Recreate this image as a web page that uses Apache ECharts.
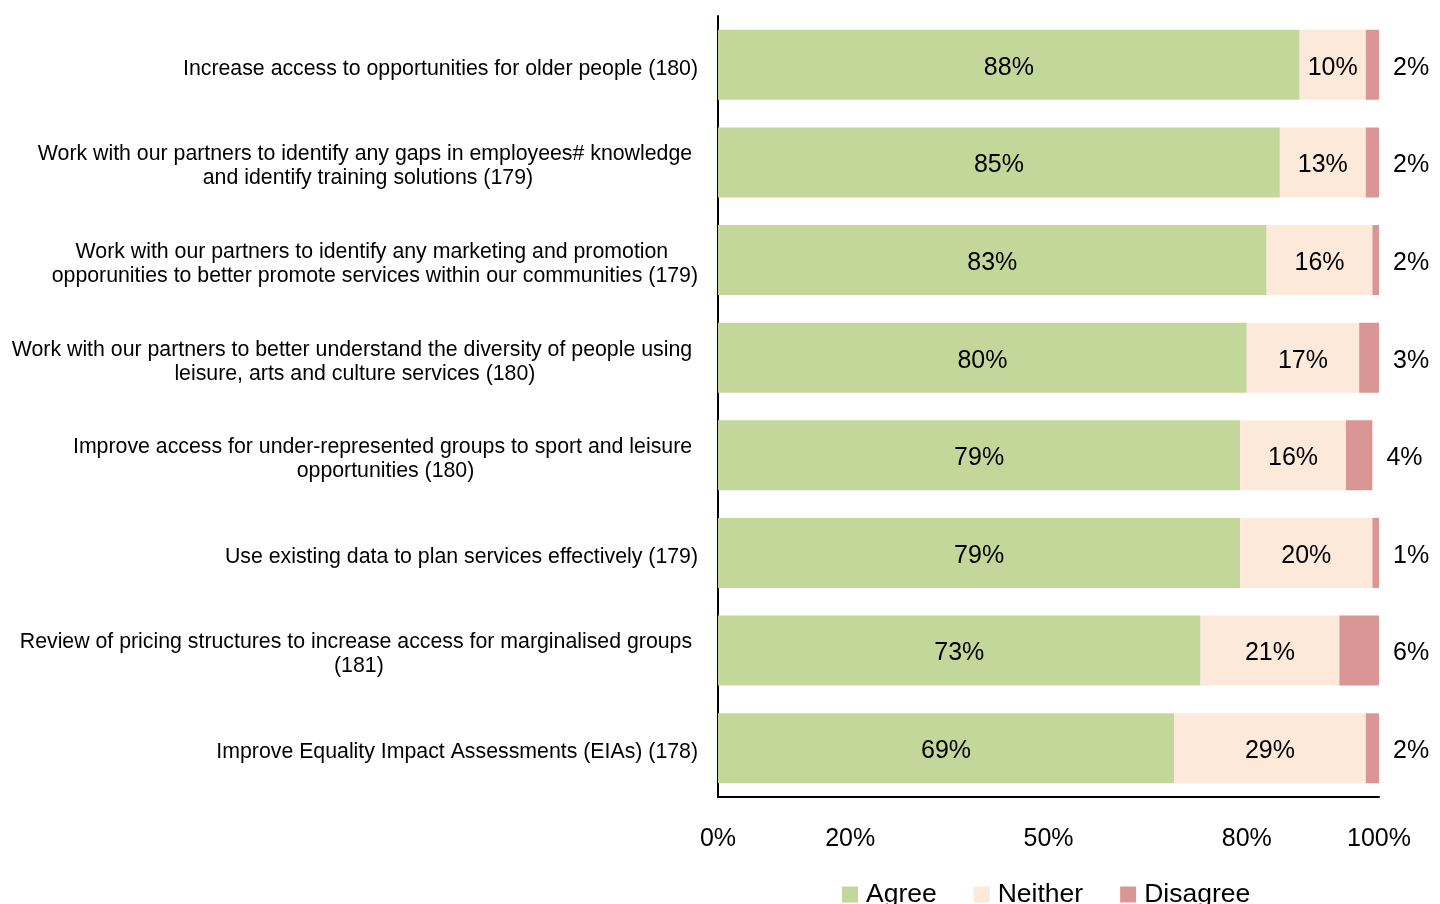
<!DOCTYPE html>
<html>
<head>
<meta charset="utf-8">
<title>Survey agreement by proposal</title>
<script src="https://cdn.jsdelivr.net/npm/echarts@6/dist/echarts.min.js"></script>
<style>
  html, body { margin: 0; padding: 0; background: #ffffff; }
  #chart { width: 1440px; height: 904px; }
</style>
</head>
<body>
<div id="chart"></div>
<script>
// Proposals (respondent count in brackets), listed top to bottom
const categories = [
  'Increase access to opportunities for older people (180)',
  'Work with our partners to identify any gaps in employees# knowledge \nand identify training solutions (179)',
  'Work with our partners to identify any marketing and promotion \nopporunities to better promote services within our communities (179)',
  'Work with our partners to better understand the diversity of people using \nleisure, arts and culture services (180)',
  'Improve access for under-represented groups to sport and leisure \nopportunities (180)',
  'Use existing data to plan services effectively (179)',
  'Review of pricing structures to increase access for marginalised groups \n(181)',
  'Improve Equality Impact Assessments (EIAs) (178)'
];

// Share of responses, percent
const agree    = [88, 85, 83, 80, 79, 79, 73, 69];
const neither  = [10, 13, 16, 17, 16, 20, 21, 29];
const disagree = [2, 2, 2, 3, 4, 1, 6, 2];

const seriesNames = ['Agree', 'Neither', 'Disagree'];
const tickValues = [0, 20, 50, 80, 100];

const FONT = "'Liberation Sans', Arial, sans-serif";
const colors = ['#c4d79b', '#fce9da', '#d99694'];

const chart = echarts.init(document.getElementById('chart'), null, { renderer: 'canvas' });

const valueLabel = (position, distance) => ({
  show: true,
  position: position,
  distance: distance,
  offset: [0, 3],
  formatter: '{c}%',
  color: '#000',
  fontFamily: FONT,
  fontSize: 25
});

chart.setOption({
  animation: false,
  backgroundColor: '#ffffff',
  color: colors,
  textStyle: { fontFamily: FONT },
  grid: {
    left: 718,
    right: 61,
    top: 16,
    bottom: 107,
    containLabel: false,
    outerBoundsMode: 'none'
  },
  legend: {
    data: seriesNames,
    left: 842,
    top: 881,
    padding: 0,
    icon: 'rect',
    itemWidth: 16,
    itemHeight: 16,
    itemGap: 37,
    textStyle: { fontFamily: FONT, fontSize: 26.5, color: '#000', padding: [0, 0, 0, 3] }
  },
  xAxis: {
    type: 'value',
    min: 0,
    max: 100,
    axisLine: { show: true, onZero: false, lineStyle: { color: '#000', width: 2 } },
    axisTick: { show: false },
    splitLine: { show: false },
    axisLabel: {
      customValues: tickValues,
      formatter: '{value}%',
      margin: 30,
      color: '#000',
      fontFamily: FONT,
      fontSize: 25
    }
  },
  yAxis: {
    type: 'category',
    inverse: true,
    data: categories,
    axisLine: { show: true, lineStyle: { color: '#000', width: 2 } },
    axisTick: { show: false },
    axisLabel: {
      margin: 20,
      align: 'right',
      padding: [8, 0, 0, 0],
      formatter: (v) => '{c|' + v + '}',
      rich: {
        c: {
          align: 'center',
          fontFamily: FONT,
          fontSize: 21.3,
          lineHeight: 24,
          color: '#000'
        }
      }
    }
  },
  series: [
    {
      name: seriesNames[0],
      type: 'bar',
      stack: 'total',
      barWidth: 70,
      data: agree,
      label: valueLabel('inside', 0)
    },
    {
      name: seriesNames[1],
      type: 'bar',
      stack: 'total',
      barWidth: 70,
      data: neither,
      label: valueLabel('inside', 0)
    },
    {
      name: seriesNames[2],
      type: 'bar',
      stack: 'total',
      barWidth: 70,
      data: disagree,
      label: valueLabel('right', 14)
    }
  ]
});
</script>
</body>
</html>
